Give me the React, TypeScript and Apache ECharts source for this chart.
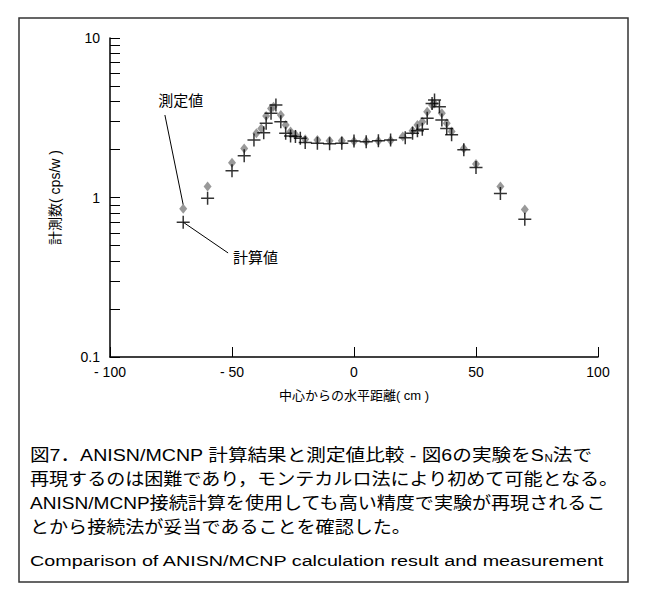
import React, { useEffect, useRef } from "react";
import * as echarts from "echarts";

// ---- data ----
const measuredX = [-70, -60, -50, -45, -40, -38, -36, -34, -33, -30, -28, -26, -24, -20, -15, -10, -5, 0, 5, 10, 15, 20, 24, 26, 28, 30, 32, 33, 36, 38, 40, 45, 50, 60, 70];
const measuredY = [0.85, 1.17, 1.65, 2.03, 2.53, 2.71, 3.24, 3.62, 3.71, 3.29, 2.85, 2.59, 2.47, 2.32, 2.29, 2.27, 2.27, 2.25, 2.25, 2.26, 2.28, 2.41, 2.62, 2.85, 2.99, 3.45, 3.8, 3.89, 3.37, 2.92, 2.59, 2.03, 1.62, 1.17, 0.84];

const calculatedX = [-70, -60, -50, -45, -41, -37, -36, -34, -32, -30, -28, -26, -24, -22, -20, -15, -10, -5, 0, 5, 10, 15, 21, 24, 26, 28, 30, 32, 33, 35, 36, 38, 40, 45, 50, 60, 70];
const calculatedY = [0.7, 0.99, 1.47, 1.83, 2.29, 2.55, 2.92, 3.37, 3.8, 2.99, 2.53, 2.43, 2.41, 2.35, 2.21, 2.19, 2.17, 2.19, 2.26, 2.24, 2.27, 2.29, 2.37, 2.53, 2.62, 2.68, 3.14, 3.89, 4.09, 3.71, 3.06, 2.71, 2.47, 1.99, 1.54, 1.06, 0.73];

const yTickValues = [0.1, 0.2, 0.3, 0.4, 0.5, 0.6, 0.7, 0.8, 0.9, 1, 2, 3, 4, 5, 6, 7, 8, 9, 10];

const xAxisName = "中心からの水平距離( cm )";
const yAxisName = "計測数( cps/w )";
const measuredLabel = "測定値";
const calculatedLabel = "計算値";

const captionLine1a = "図7．ANISN/MCNP 計算結果と測定値比較 - 図6の実験をS";
const captionLine1sub = "N";
const captionLine1b = "法で";
const captionLine2 = "再現するのは困難であり，モンテカルロ法により初めて可能となる。";
const captionLine3 = "ANISN/MCNP接続計算を使用しても高い精度で実験が再現されるこ";
const captionLine4 = "とから接続法が妥当であることを確認した。";
const captionEnglish = "Comparison of ANISN/MCNP calculation result and measurement";

const FONT = "'Liberation Sans', Arial, 'Noto Sans CJK JP', sans-serif";
const CROSS = "path://M11.5,0h3v11.5h11.5v3h-11.5v11.5h-3v-11.5h-11.5v-3h11.5z";

function measure(text: string, font: string): number {
  const c = document.createElement("canvas");
  const ctx = c.getContext("2d")!;
  ctx.font = font;
  return ctx.measureText(text).width;
}

export default function App() {
  const ref = useRef<HTMLDivElement>(null);

  useEffect(() => {
    const chart = echarts.init(ref.current!, null, { renderer: "svg" });

    chart.setOption({
      animation: false,
      backgroundColor: "#fff",
      grid: { left: 110, top: 38, right: 49, bottom: 238, containLabel: false },
      xAxis: {
        type: "value",
        min: -100,
        max: 100,
        interval: 50,
        axisLine: { show: true, onZero: false, lineStyle: { color: "#000", width: 1.5 } },
        axisTick: { show: true, inside: true, length: 10, lineStyle: { color: "#000", width: 1 } },
        splitLine: { show: false },
        axisLabel: {
          color: "#000",
          fontSize: 14,
          fontFamily: FONT,
          margin: 8,
          formatter: (v: number) => (v < 0 ? "- " + String(-v) : String(v)),
        },
        name: xAxisName,
        nameLocation: "middle",
        nameGap: 32,
        nameTextStyle: { color: "#000", fontSize: 13, fontFamily: FONT },
      },
      yAxis: {
        type: "log",
        logBase: 10,
        min: 0.1,
        max: 10,
        axisLine: { show: true, onZero: false, lineStyle: { color: "#000", width: 1.5 } },
        axisTick: {
          show: true,
          inside: true,
          length: 10,
          lineStyle: { color: "#000", width: 1 },
          customValues: yTickValues,
        },
        minorTick: { show: false },
        splitLine: { show: false },
        axisLabel: {
          color: "#000",
          fontSize: 14,
          fontFamily: FONT,
          margin: 10,
          formatter: (v: number) => String(v),
        },
        name: yAxisName,
        nameLocation: "middle",
        nameGap: 48,
        nameRotate: 90,
        nameTextStyle: { color: "#000", fontSize: 14, fontFamily: FONT },
      },
      series: [
        {
          type: "scatter",
          name: measuredLabel,
          data: measuredX.map((x, i) => [x, measuredY[i]]),
          symbol: "diamond",
          symbolSize: [8, 10],
          itemStyle: { color: "#808080" },
          z: 2,
        },
        {
          type: "scatter",
          name: calculatedLabel,
          data: calculatedX.map((x, i) => [x, calculatedY[i]]),
          symbol: CROSS,
          symbolSize: 13,
          itemStyle: { color: "#000" },
          z: 3,
        },
      ],
    });

    const px = (x: number, y: number) => chart.convertToPixel({ gridIndex: 0 }, [x, y]) as number[];

    // annotation anchors (data space)
    const mPoint = px(measuredX[0], measuredY[0]);
    const mLineStart = px(-77.5, 3.29);
    const mText = px(-71, 4.03);
    const cPoint = px(calculatedX[0], calculatedY[0]);
    const cLineEnd = px(-51.6, 0.449);
    const cText = px(-49.6, 0.418);

    const jpFont = "17px " + FONT;
    const jpScale = 590 / measure(captionLine2, jpFont);
    const line1Scale = 568 / measure(captionLine1a + captionLine1sub + captionLine1b, jpFont);
    const enFont = "14px " + FONT;
    const enScale = 575 / measure(captionEnglish, enFont);

    const jpStyle = (text: string) => ({
      text,
      x: 0,
      y: 0,
      fill: "#000",
      font: jpFont,
      align: "left",
      verticalAlign: "middle",
    });

    chart.setOption({
      graphic: [
        {
          type: "rect",
          shape: { x: 19, y: 18, width: 609, height: 564 },
          style: { fill: "none", stroke: "#333", lineWidth: 1.5 },
          silent: true,
        },
        {
          type: "text",
          x: mText[0],
          y: mText[1],
          style: { text: measuredLabel, fill: "#000", font: "15px " + FONT, align: "center", verticalAlign: "middle" },
        },
        {
          type: "line",
          shape: { x1: mLineStart[0], y1: mLineStart[1], x2: mPoint[0], y2: mPoint[1] - 4 },
          style: { stroke: "#000", lineWidth: 1 },
        },
        {
          type: "text",
          x: cText[0],
          y: cText[1],
          style: { text: calculatedLabel, fill: "#000", font: "15px " + FONT, align: "left", verticalAlign: "middle" },
        },
        {
          type: "line",
          shape: { x1: cPoint[0], y1: cPoint[1], x2: cLineEnd[0], y2: cLineEnd[1] },
          style: { stroke: "#000", lineWidth: 1 },
        },
        {
          type: "text",
          x: 30,
          y: 455,
          scaleX: line1Scale,
          style: {
            text: "{a|" + captionLine1a + "}{s|" + captionLine1sub + "}{a|" + captionLine1b + "}",
            x: 0,
            y: 0,
            align: "left",
            verticalAlign: "middle",
            rich: {
              a: { fontSize: 17, fontFamily: FONT, fill: "#000" },
              s: { fontSize: 10, fontFamily: FONT, fill: "#000", verticalAlign: "bottom", padding: [6, 0, 0, 0] },
            },
          },
        },
        { type: "text", x: 30, y: 479, scaleX: jpScale, style: jpStyle(captionLine2) },
        { type: "text", x: 30, y: 503, scaleX: jpScale, style: jpStyle(captionLine3) },
        { type: "text", x: 30, y: 527, scaleX: jpScale, style: jpStyle(captionLine4) },
        {
          type: "text",
          x: 30,
          y: 562,
          scaleX: enScale,
          style: { text: captionEnglish, x: 0, y: 0, fill: "#000", font: enFont, align: "left", verticalAlign: "middle" },
        },
      ],
    });

    return () => chart.dispose();
  }, []);

  return <div ref={ref} style={{ position: "absolute", left: 0, top: 0, width: 647, height: 595 }} />;
}
